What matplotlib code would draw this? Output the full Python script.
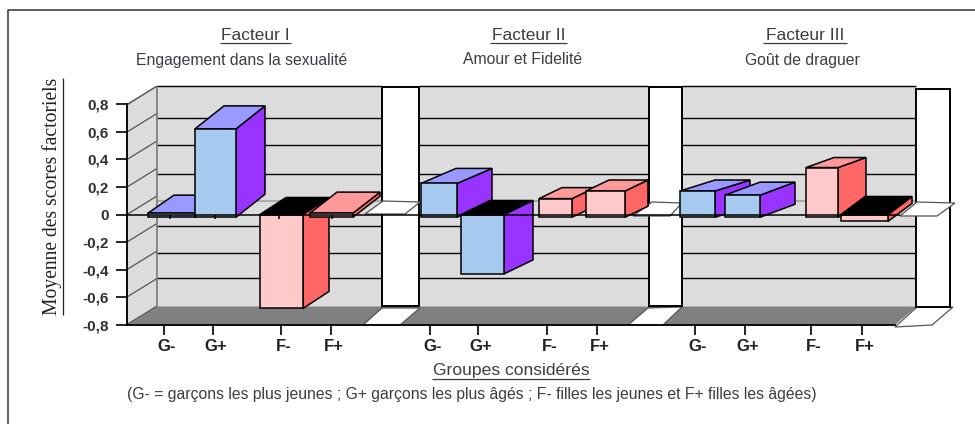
import matplotlib
matplotlib.use('Agg')
import matplotlib.pyplot as plt
from matplotlib.transforms import ScaledTranslation

plt.rcParams['font.family'] = ['Liberation Sans', 'DejaVu Sans']

# scores, order G-, G+, F-, F+
groups = ['G-', 'G+', 'F-', 'F+']
facteur1 = [0.01, 0.62, -0.68, 0.01]
facteur2 = [0.225, -0.43, 0.115, 0.17]
facteur3 = [0.17, 0.14, 0.34, -0.05]
y_ticks = [0.8, 0.6, 0.4, 0.2, 0, -0.2, -0.4, -0.6, -0.8]
y_labels = ['0,8', '0,6', '0,4', '0,2', '0', '-0,2', '-0,4', '-0,6', '-0,8']
titles = ['Facteur I', 'Facteur II', 'Facteur III']
subtitles = ['Engagement dans la sexualité', 'Amour et Fidelité', 'Goût de draguer']

# layout of the fake 3D, in pixels of the picture
tick_x = [164, 213, 281, 331, 430, 478, 547, 597, 695, 745, 811, 862]
bar_left = [148, 195, 260, 310, 421, 461, 539, 586, 680, 725, 806, 841]
bar_right = [195, 236, 303, 353, 457, 504, 572, 625, 715, 760, 838, 888]
bar_dx = [26, 29, 26, 27, 35, 29, 23, 23, 35, 35, 28, 24]
bar_dy = [18, 23, 17, 21, 15, 14, 11, 11, 11, 13, 10, 18]
back_y = [86, 118, 145, 174, 226, 253, 278, 307]
walls = [(157, 382), (419, 648), (682, 916)]
columns = [(382, 419, 87, 306), (649, 682, 87, 306), (916, 950, 89, 307)]
floor_gaps = [[(363, 325), (382, 308), (420, 308), (400, 325)],
              [(628, 325), (648, 308), (682, 307), (663, 325)],
              [(895, 327), (917, 307), (953, 307), (932, 325)]]
zero_gaps = [[(365, 214), (383, 201), (420, 202), (405, 214)],
             [(633, 216), (652, 202), (682, 203), (670, 216)],
             [(900, 216), (917, 202), (955, 203), (937, 216)]]
title_x = [255, 529, 805]
sub_x = [242, 523, 802]

PX_TOP, PX_BOTTOM = 104, 325
BASE = -0.02
BLUE = ('#a6caf0', '#9999ff', '#9933ff')
RED = ('#ffc9c9', '#ff9999', '#ff6666')
TEXT = '#3c3c44'
LW = 1.1


def val(py):
    # pixel row -> data value
    return 0.8 - (py - PX_TOP) * 1.6 / (PX_BOTTOM - PX_TOP)


def poly(ax, pts, color, z, lw=LW, edge='black'):
    ax.fill([p[0] for p in pts], [val(p[1]) for p in pts], facecolor=color,
            edgecolor=edge, linewidth=lw, zorder=z, clip_on=False)


def line(ax, xs, ys, color='black', lw=LW, z=2):
    ax.plot(xs, [val(y) for y in ys], color=color, lw=lw, zorder=z,
            clip_on=False, solid_capstyle='butt')


fig = plt.figure(figsize=(9.75, 4.24), dpi=100)
ax = fig.add_axes([127 / 975, 1 - PX_BOTTOM / 424, (975 - 127) / 975,
                   (PX_BOTTOM - PX_TOP) / 424])
ax.set_xlim(127, 975)
ax.set_ylim(-0.8, 0.8)
ax.patch.set_alpha(0)

# outer frame
fig.add_artist(plt.Line2D([8 / 975, 8 / 975, 1], [0, 1 - 10 / 424, 1 - 10 / 424],
                          color='#444444', lw=1.2))

# side wall
poly(ax, [(127, 105), (157, 86), (157, 307), (127, 325)], '#dcdcdc', 1, lw=0.8, edge='#777777')
for v in y_ticks:
    yf = 214.5 - v * 137.5
    line(ax, [127, 157], [yf, yf - 18.5], color='#555555', lw=0.9)

# back walls and grid
for x0, x1 in walls:
    poly(ax, [(x0, 86), (x1, 86), (x1, 307), (x0, 307)], '#dcdcdc', 1, lw=0)
    for y in back_y:
        line(ax, [x0, x1], [y, y], lw=1.0)
    line(ax, [x0, x1], [201, 201], color='#aaaaaa', lw=1.5)
line(ax, [157, 157], [86, 307], color='#777777')

# floor
poly(ax, [(127, 325), (157, 307), (916, 307), (895, 325)], '#808080', 3, lw=0)
for pts in floor_gaps:
    poly(ax, pts, 'white', 4, lw=0.9, edge='#555555')

# white columns between the panels
for x0, x1, y0, y1 in columns:
    poly(ax, [(x0, y0), (x1, y0), (x1, y1), (x0, y1)], 'white', 4, lw=1.4)
for pts in zero_gaps:
    poly(ax, pts, 'white', 5, lw=0.9, edge='#555555')

# bars, left to right so that each one covers the previous side face
scores = facteur1 + facteur2 + facteur3
z = 6
for i, score in enumerate(scores):
    front, top, side = BLUE if i % 4 < 2 else RED
    x0, x1 = bar_left[i], bar_right[i]
    dx, dy = bar_dx[i], bar_dy[i]
    dv = val(0) - val(dy)
    upper = max(score, 0)
    lower = min(score, BASE)
    ax.fill([x1, x1 + dx, x1 + dx, x1], [upper, upper + dv, lower + dv, lower],
            facecolor=side, edgecolor='black', lw=LW, zorder=z, clip_on=False)
    ax.fill([x0, x0 + dx, x1 + dx, x1], [upper, upper + dv, upper + dv, upper],
            facecolor=top if score > 0 else 'black', edgecolor='black', lw=LW,
            zorder=z, clip_on=False)
    ax.bar(x0, upper - lower, bottom=lower, width=x1 - x0, align='edge', color=front,
           edgecolor='black', linewidth=LW, zorder=z + 0.5, clip_on=False)
    z += 1

# zero line, with the little ticks of the first panel
line(ax, [127, 900], [214.5, 214.5], z=30)
for x in [170, 215, 279, 332]:
    line(ax, [x, x], [214.5, 219], z=30)

# axes
for name in ['top', 'right']:
    ax.spines[name].set_visible(False)
ax.spines['left'].set_linewidth(1.3)
ax.spines['bottom'].set_linewidth(1.3)
ax.spines['bottom'].set_bounds(127, 895)
ax.spines['left'].set_zorder(31)
ax.spines['bottom'].set_zorder(31)
ax.set_yticks(y_ticks)
ax.set_yticklabels(y_labels, fontsize=11, fontweight='bold', color='#30303a')
ax.set_xticks(tick_x)
ax.set_xticklabels(groups * 3, fontsize=12, fontweight='bold', color='#202028')
ax.tick_params(axis='y', length=8, width=1.2, pad=5)
ax.tick_params(axis='x', length=7, width=1.2, pad=3)
shift = ScaledTranslation(3 / 100, 0, fig.dpi_scale_trans)
for lab in ax.get_xticklabels():
    lab.set_transform(lab.get_transform() + shift)

# titles
for i in range(3):
    ax.text(title_x[i], val(35), titles[i], ha='center', va='center', fontsize=12.5, color=TEXT)
    ax.text(sub_x[i], val(60), subtitles[i], ha='center', va='center', fontsize=11.3, color=TEXT)
line(ax, [220, 291], [43, 43], color=TEXT, lw=0.9)
line(ax, [490, 567], [43, 43], color=TEXT, lw=0.9)
line(ax, [763, 847], [43, 43], color=TEXT, lw=0.9)

ax.text(511, val(370), 'Groupes considérés', ha='center', va='center', fontsize=12.6, color=TEXT)
line(ax, [432, 590], [379, 379], color=TEXT, lw=0.9)
ax.text(127, val(395), "(G- = garçons les plus jeunes ; G+ garçons les plus âgés ; F- filles les jeunes et F+ filles les âgées)",
        ha='left', va='center', fontsize=11.35, color=TEXT)

ax.text(52, val(196), 'Moyenne des scores factoriels', rotation=90, ha='center', va='center',
        fontsize=14.1, color='#222222', family=['Liberation Serif', 'DejaVu Serif'])
line(ax, [63, 63], [78, 315], color='#222222', lw=0.9)

fig.savefig('out.png', dpi=100)
